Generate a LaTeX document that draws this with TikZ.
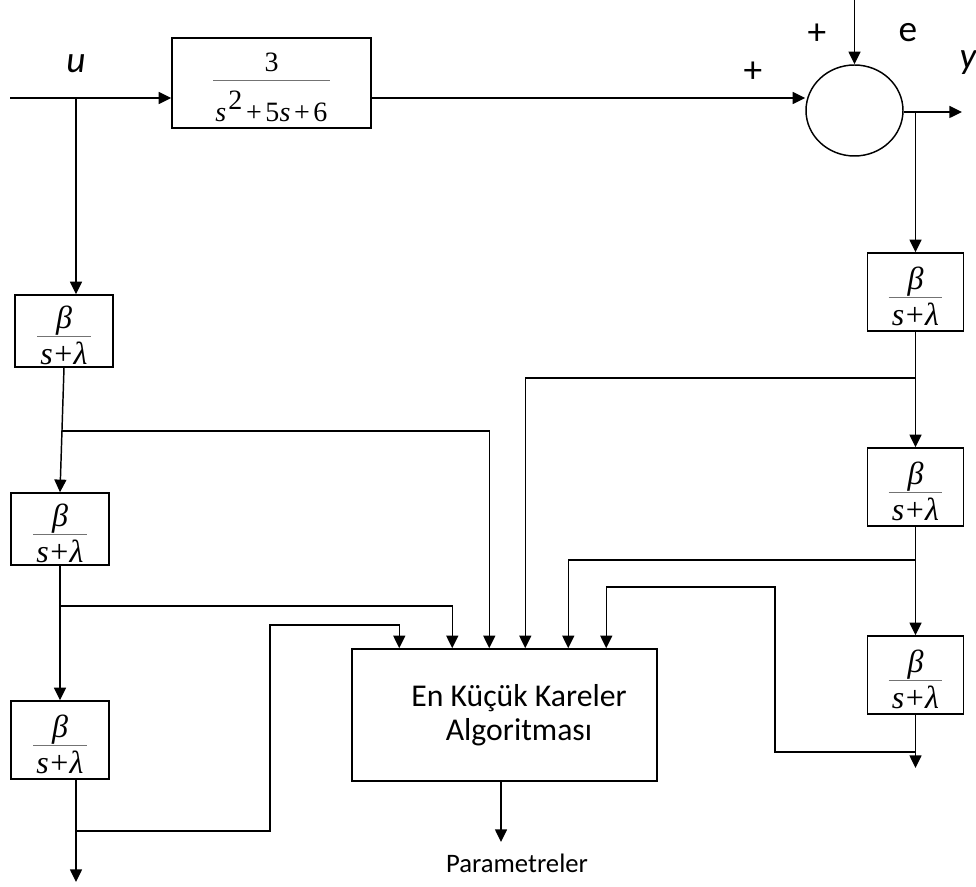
\documentclass[tikz,border=0pt]{standalone}
\usepackage{fontspec}
\setmainfont{Carlito}
\newfontfamily\tnr{Liberation Serif}
\usetikzlibrary{arrows.meta,shapes.geometric,calc}
\definecolor{barc}{gray}{0.45}
% #1 numerator, #2 denominator, #3 kern above bar, #4 kern below bar, #5 top kern
\newcommand\myfracbox[5]{\vbox{\kern#5\halign{\hfil##\hfil\cr #1\cr
  \noalign{\kern#3{\color{barc}\hrule height 0.8pt}\kern#4}#2\cr}}}
\newcommand\betafrac{\myfracbox{\itshape β}%
  {\hspace{2.6pt}\itshape s\hspace{1pt}\upshape+\hspace{1pt}\itshape λ\hspace{2.6pt}}%
  {0.5pt}{4pt}{6.75pt}}
\begin{document}
\begin{tikzpicture}[x=0.75pt,y=-0.75pt,
  line width=1.1pt,
  arr/.style={-{Triangle[length=9.5pt,width=9pt]}},
  blk/.style={draw,rectangle,inner sep=0pt,line width=1.1pt},
  frb/.style={blk,font=\tnr\fontsize{24}{28}\selectfont,minimum width=73.5pt,minimum height=58.5pt},
  lbl/.style={font=\fontsize{28}{32}\selectfont,inner sep=0pt}]
\useasboundingbox (0,0) rectangle (976,887);

% blocks
\node[blk,minimum width=149.25pt,minimum height=67.5pt,font=\tnr\fontsize{21}{25}\selectfont] (G) at (271.5,83)
  {\myfracbox{3}{\hspace{1.5pt}\itshape s\hspace{1.5pt}\upshape\raisebox{9pt}{2}\hspace{2.75pt}+\hspace{2.75pt}5\itshape s\hspace{2.75pt}\upshape+\hspace{2.75pt}6\hspace{1.5pt}}{6pt}{7.5pt}{6.75pt}};
\node[draw,ellipse,inner sep=0pt,minimum width=72.75pt,minimum height=68.25pt,line width=1.1pt] (S) at (854.5,110.5) {};
\node[frb,minimum height=54pt] (L1) at (64,331) {\betafrac};
\node[frb,minimum height=54pt] (L2) at (60,529) {\betafrac};
\node[frb] (L3) at (60,740) {\betafrac};
\node[frb,minimum width=72pt] (R1) at (915.5,292) {\betafrac};
\node[frb,minimum width=72pt] (R2) at (915.5,487) {\betafrac};
\node[frb,minimum width=72pt] (R3) at (915.5,675) {\betafrac};
\node[blk,minimum width=228.75pt,minimum height=99pt] (A) at (504.5,715) {};
\node[align=center,font=\fontsize{23.8}{25.5}\selectfont,inner sep=0pt] (At) at (519,715) {En Küçük Kareler\\Algoritması};
\node[font=\fontsize{20}{22}\selectfont,inner sep=0pt] (P) at (517,863) {Parametreler};

% labels
\node[lbl] (u) at (76,64) {\itshape u};
\node[lbl] (e) at (908,33) {e};
\node[lbl] (p1) at (817,34) {+};
\node[lbl] (p2) at (753,72) {+};
\node[lbl] (y) at (968,63) {\itshape y};

% coordinates
\coordinate (in) at (10,98);
\coordinate (ju) at (76,98);
\coordinate (etop) at (854.5,0);
\coordinate (yout) at (962,112);
\coordinate (jy) at (915.5,112);
\path (A.north west) ++(48,0) coordinate (a1)
      (A.north west) ++(101,0) coordinate (a2)
      (A.north west) ++(138,0) coordinate (a3)
      (A.north west) ++(174,0) coordinate (a4)
      (A.north west) ++(217,0) coordinate (a5)
      (A.north west) ++(255,0) coordinate (a6);
\coordinate (j1) at ($(L1.south)!0.508!(L2.north)$);
\coordinate (j2) at (60,606);
\coordinate (l3o) at ($(L3.south)+(16,0)$);
\coordinate (outL) at (76,882);
\coordinate (j3) at (76,831);
\coordinate (k1) at (270,831);
\coordinate (k2) at (270,625);
\coordinate (j4) at (915.5,378);
\coordinate (j5) at (915.5,560);
\coordinate (j6) at (915.5,752);
\coordinate (m1) at (775,752);
\coordinate (m2) at (775,587);
\coordinate (outR) at (915.5,768);
\coordinate (ao) at ($(A.south)+(-3.5,0)$);
\coordinate (po) at (501,842);

% connectors
\draw[arr] (in) -- (in -| G.west);
\draw[arr] (ju) -- (ju |- L1.north);
\draw[arr] (in -| G.east) -- (in -| S.west);
\draw[arr] (etop) -- (S.north);
\draw[arr] (S.east |- yout) -- (yout);
\draw[arr] (jy) -- (R1.north);

\draw[arr] (L1.south) -- (L2.north);
\draw[arr] (j1) -| (a3);
\draw[arr] (L2.south) -- (L3.north);
\draw[arr] (j2) -| (a2);
\draw[arr] (l3o) -- (outL);
\draw[arr] (j3) -- (k1) -- (k2) -| (a1);

\draw[arr] (R1.south) -- (R2.north);
\draw[arr] (j4) -| (a4);
\draw[arr] (R2.south) -- (R3.north);
\draw[arr] (j5) -| (a5);
\draw[arr] (R3.south) -- (outR);
\draw[arr] (j6) -- (m1) -- (m2) -| (a6);

\draw[arr] (ao) -- (po);
\end{tikzpicture}
\end{document}
